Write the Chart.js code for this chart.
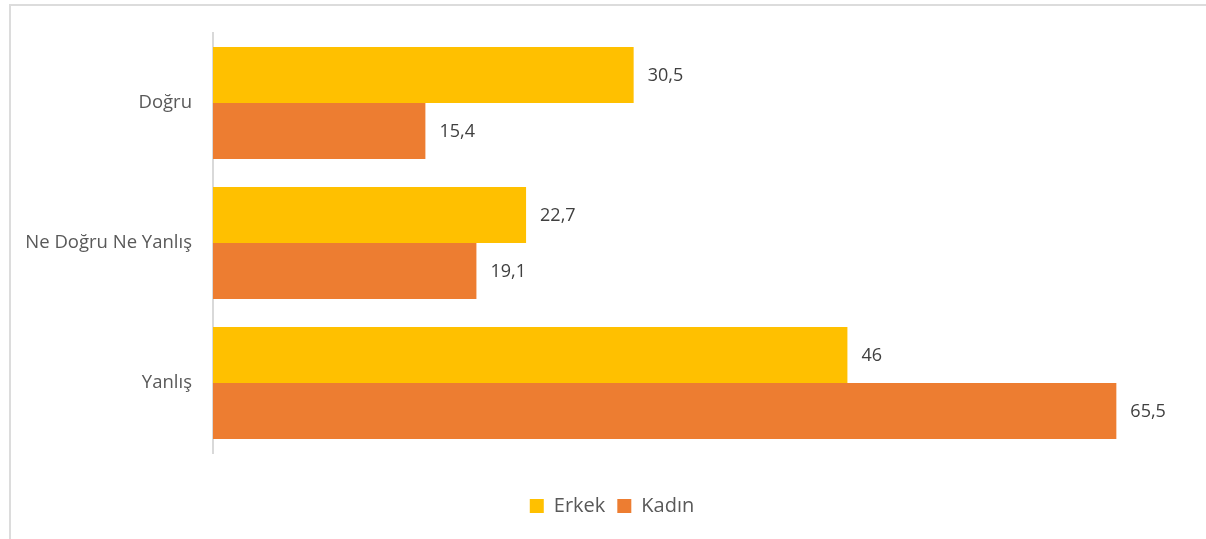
<!DOCTYPE html>
<html>
<head>
<meta charset="utf-8">
<script src="https://cdn.jsdelivr.net/npm/chart.js@4"></script>
<style>
  html, body { margin: 0; padding: 0; background: #fff; overflow: hidden; }
  #frame { position: absolute; left: 9px; top: 4px; width: 1300px; height: 700px;
           border-top: 2px solid #dcdcdc; border-left: 2px solid #dcdcdc; }
  #wrap { position: absolute; left: 0; top: 0; width: 1206px; height: 539px; }
</style>
</head>
<body>
<div id="frame"></div>
<div id="wrap"><canvas id="chart"></canvas></div>
<script>
const categories = ['Doğru', 'Ne Doğru Ne Yanlış', 'Yanlış'];
const erkekValues = [30.5, 22.7, 46];
const kadinValues = [15.4, 19.1, 65.5];

const seriesNames = ['Erkek', 'Kadın'];
const seriesColors = ['#FFC000', '#ED7D31'];

const FONT = "'Open Sans', sans-serif";

// value labels to the right of each bar, with a decimal comma
const valueLabels = {
    id: 'valueLabels',
    afterDatasetsDraw(chart) {
        const ctx = chart.ctx;
        ctx.save();
        ctx.font = '18px ' + FONT;
        ctx.fillStyle = '#404040';
        ctx.textAlign = 'left';
        ctx.textBaseline = 'middle';
        chart.data.datasets.forEach((ds, i) => {
            chart.getDatasetMeta(i).data.forEach((bar, j) => {
                const text = String(ds.data[j]).replace('.', ',');
                ctx.fillText(text, bar.x + 14, bar.y + 1);
            });
        });
        ctx.restore();
    }
};

new Chart(document.getElementById('chart'), {
    type: 'bar',
    data: {
        labels: categories,
        datasets: [
            { label: seriesNames[0], data: erkekValues, backgroundColor: seriesColors[0] },
            { label: seriesNames[1], data: kadinValues, backgroundColor: seriesColors[1] }
        ]
    },
    options: {
        indexAxis: 'y',
        responsive: true,
        maintainAspectRatio: false,
        animation: false,
        categoryPercentage: 0.8,
        barPercentage: 1.0,
        layout: { padding: { top: 33, right: 0, bottom: 13, left: 18 } },
        scales: {
            x: {
                min: 0,
                max: 72,
                grid: { display: false },
                border: { display: false },
                ticks: { display: false },
                afterFit(scale) { scale.height = 31; }
            },
            y: {
                grid: { display: false },
                border: { display: true, color: '#d9d9d9', width: 2 },
                ticks: { color: '#595959', font: { family: FONT, size: 18.5 }, padding: 13 },
                afterFit(scale) { scale.width = 195; }
            }
        },
        plugins: {
            legend: {
                position: 'bottom',
                labels: {
                    boxWidth: 14,
                    boxHeight: 14,
                    padding: 12,
                    color: '#595959',
                    font: { family: FONT, size: 20 }
                }
            },
            tooltip: { enabled: false }
        }
    },
    plugins: [valueLabels]
});
</script>
</body>
</html>
